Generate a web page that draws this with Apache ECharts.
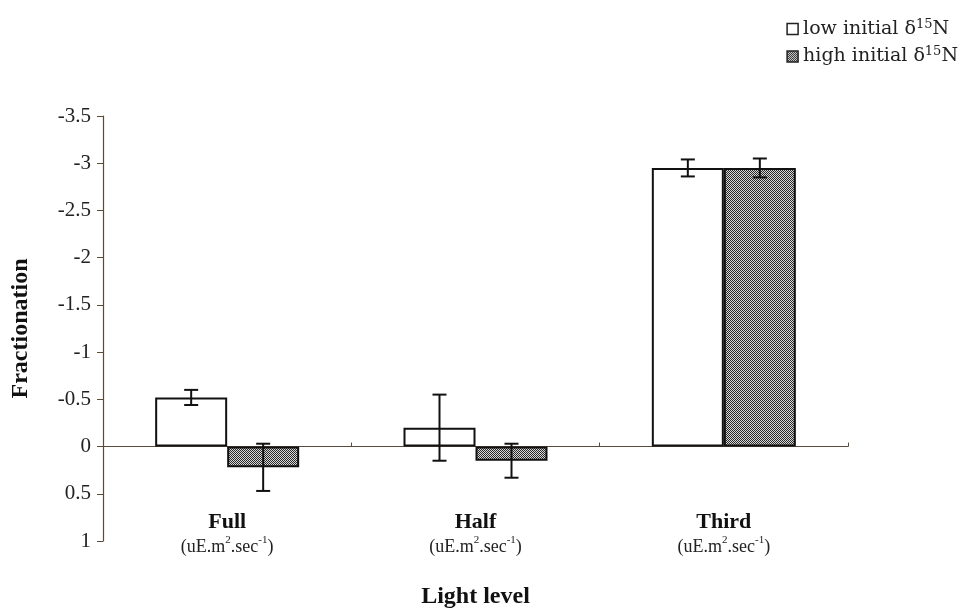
<!DOCTYPE html>
<html><head><meta charset="utf-8">
<script src="https://cdn.jsdelivr.net/npm/echarts@6/dist/echarts.min.js"></script>
<style>html,body{margin:0;padding:0;background:#fff}#c{width:965px;height:613px}</style>
</head><body><div id="c"></div>
<script>
const categories = ['Full', 'Half', 'Third'];
const lowValues = [-0.52, -0.20, -2.95];
const lowErrors = [0.08, 0.35, 0.09];
const highValues = [0.22, 0.15, -2.95];
const highErrors = [0.25, 0.18, 0.10];
const yTicks = {min: -3.5, max: 1, interval: 0.5};

// hatch pattern
const pc = document.createElement('canvas');
pc.width = 4; pc.height = 4;
const g = pc.getContext('2d');
g.fillStyle = '#d8d8d8'; g.fillRect(0,0,4,4);
g.fillStyle = '#2a2a2a';
for (let x=0;x<4;x++) for (let y=0;y<4;y++) {
  if ((x+y)%2===0) g.fillRect(x,y,1,1);
}
const pattern = {image: pc, repeat: 'repeat'};

const chart = echarts.init(document.getElementById('c'));
const serif = '"Liberation Serif","DejaVu Serif",serif';
const legendFont = '"DejaVu Serif","Liberation Serif",serif';
const barW = 72;

function errData(vals, errs) { return vals.map((v,i)=>[i, v, errs[i]]); }
function errSeries(vals, errs, shift) {
  return {
    type: 'custom', z: 10, silent: true,
    data: errData(vals, errs),
    renderItem: function(params, api) {
      const i = api.value(0), v = api.value(1), e = api.value(2);
      const p1 = api.coord([i, v - e]);
      const p2 = api.coord([i, v + e]);
      const x = p1[0] + shift;
      const hw = 7;
      const st = {stroke: '#111', lineWidth: 2};
      return {type: 'group', children: [
        {type:'line', shape:{x1:x,y1:p1[1],x2:x,y2:p2[1]}, style:st},
        {type:'line', shape:{x1:x-hw,y1:p1[1],x2:x+hw,y2:p1[1]}, style:st},
        {type:'line', shape:{x1:x-hw,y1:p2[1],x2:x+hw,y2:p2[1]}, style:st}
      ]};
    }
  };
}

const legendRich = {
  t: {fontFamily: legendFont, fontSize: 19, color: '#222'},
  sup: {fontSize: 13, verticalAlign: 'top', padding: [0,0,9,0], fontFamily: legendFont, color:'#222'}
};

chart.setOption({
  animation: false,
  backgroundColor: '#fff',
  grid: {left: 103, right: 117, top: 116, bottom: 72, containLabel: false, outerBoundsMode: 'none'},
  legend: {
    orient: 'vertical', right: 2, top: 13, itemWidth: 11, itemHeight: 11, itemGap: 7,
    icon: 'rect',
    textStyle: {fontFamily: legendFont, fontSize: 19, color: '#222', rich: legendRich},
    formatter: function(n){ return n==='low' ? '{t|low initial δ}{sup|15}{t|N}' : '{t|high initial δ}{sup|15}{t|N}'; },
    data: [
      {name: 'low', itemStyle: {color:'#fff', borderColor:'#222', borderWidth:1.5}},
      {name: 'high', itemStyle: {color: pattern, borderColor:'#222', borderWidth:1.5}}
    ]
  },
  xAxis: [{
    type: 'category', data: categories,
    axisLine: {onZero: true, lineStyle: {color: '#5a4a3a', width: 1.2}},
    axisTick: {show: true, inside: true, length: 4, lineStyle:{color:'#5a4a3a'}},
    axisLabel: {show: false}
  }, {
    type: 'category', data: categories, position: 'bottom', offset: -32,
    name: 'Light level', nameLocation: 'middle', nameGap: 76,
    nameTextStyle: {fontFamily: serif, fontSize: 24, fontWeight: 'bold', color: '#111'},
    axisLine: {show: false, onZero: false}, axisTick: {show: false},
    axisLabel: {
      margin: 0, interval: 0,
      formatter: function(v){ return '{b|' + v + '}\n{n|(uE.m}{s|2}{n|.sec}{s|-1}{n|)}'; },
      rich: {
        b: {fontFamily: serif, fontSize: 22, fontWeight: 'bold', color: '#111', lineHeight: 26},
        n: {fontFamily: serif, fontSize: 18, color: '#222', lineHeight: 24},
        s: {fontFamily: serif, fontSize: 11, color: '#222', verticalAlign: 'top', lineHeight: 24, padding:[0,0,4,0]}
      }
    }
  }],
  yAxis: {
    type: 'value', inverse: true, min: yTicks.min, max: yTicks.max, interval: yTicks.interval,
    name: 'Fractionation', nameLocation: 'middle', nameGap: 70,
    nameTextStyle: {fontFamily: serif, fontSize: 24, fontWeight: 'bold', color: '#111'},
    splitLine: {show: false},
    axisLine: {show: true, lineStyle: {color: '#5a4a3a', width: 1.2}},
    axisTick: {show: true, length: 6, lineStyle:{color:'#5a4a3a'}},
    axisLabel: {fontFamily: serif, fontSize: 21, color: '#222', margin: 12}
  },
  series: [
    {name: 'low', type: 'bar', data: lowValues, barWidth: barW, barGap: '0%',
     itemStyle: {color: '#fff', borderColor: '#111', borderWidth: 2}},
    {name: 'high', type: 'bar', data: highValues, barWidth: barW, barGap: '0%',
     itemStyle: {color: pattern, borderColor: '#111', borderWidth: 2}},
    errSeries(lowValues, lowErrors, -barW/2),
    errSeries(highValues, highErrors, barW/2)
  ]
});
</script></body></html>
